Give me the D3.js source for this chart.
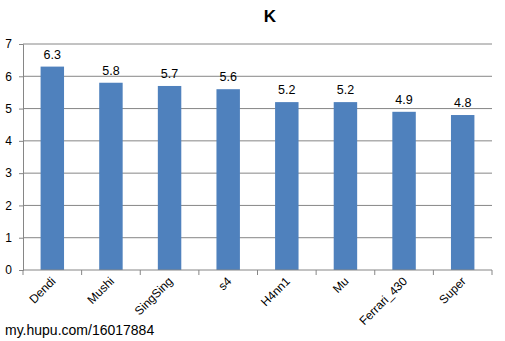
<!DOCTYPE html>
<html>
<head>
  <meta charset="utf-8">
  <title>K</title>
  <script src="https://d3js.org/d3.v7.min.js"></script>
  <style>
    body, html { margin: 0; padding: 0; background: #fff; }
    svg { display: block; }
    text { font-family: "Liberation Sans", "DejaVu Sans", sans-serif; fill: #000; }
  </style>
</head>
<body>
<svg width="505" height="341"></svg>
<script>
  // chart data
  const players = ["Dendi", "Mushi", "SingSing", "s4", "H4nn1", "Mu", "Ferrari_430", "Super"];
  const scores = [6.3, 5.8, 5.7, 5.6, 5.2, 5.2, 4.9, 4.8];
  const yTicks = [0, 1, 2, 3, 4, 5, 6, 7];

  const svg = d3.select("svg");
  const margin = { top: 44, right: 13, bottom: 71, left: 23 };
  const width = 505 - margin.left - margin.right;
  const height = 341 - margin.top - margin.bottom;

  const g = svg.append("g").attr("transform", `translate(${margin.left},${margin.top})`);

  const x = d3.scaleBand().domain(players).range([0, width]).paddingInner(0.6).paddingOuter(0.3);
  const y = d3.scaleLinear().domain([0, 7]).range([height, 0]);

  // gridlines
  g.selectAll(".grid")
    .data(yTicks.slice(1))
    .enter().append("line")
    .attr("x1", 0).attr("x2", width)
    .attr("y1", d => y(d)).attr("y2", d => y(d))
    .attr("stroke", "#868686").attr("stroke-width", 1);

  // y axis
  const yAxis = g.append("g")
    .call(d3.axisLeft(y).tickValues(yTicks).tickFormat(d3.format("d")).tickSize(4).tickPadding(7));
  yAxis.select(".domain").attr("stroke", "#868686");
  yAxis.selectAll(".tick line").attr("stroke", "#868686");
  yAxis.selectAll("text").attr("font-size", 12).attr("fill", "#000")
    .style("font-family", "'Liberation Sans', sans-serif");

  // bars
  g.selectAll(".bar")
    .data(players)
    .enter().append("rect")
    .attr("x", d => x(d))
    .attr("y", (d, i) => y(scores[i]))
    .attr("width", x.bandwidth())
    .attr("height", (d, i) => height - y(scores[i]))
    .attr("fill", "#4F81BD");

  // value labels
  g.selectAll(".val")
    .data(players)
    .enter().append("text")
    .attr("x", d => x(d) + x.bandwidth() / 2)
    .attr("y", (d, i) => y(scores[i]) - 8)
    .attr("text-anchor", "middle")
    .attr("font-size", 12.5)
    .text((d, i) => scores[i]);

  // x axis with boundary ticks
  const boundaries = d3.range(players.length + 1).map(i => i * width / players.length);
  g.append("line")
    .attr("x1", 0).attr("x2", width)
    .attr("y1", height).attr("y2", height)
    .attr("stroke", "#868686");
  g.selectAll(".xtick")
    .data(boundaries)
    .enter().append("line")
    .attr("x1", d => d).attr("x2", d => d)
    .attr("y1", height).attr("y2", height + 5)
    .attr("stroke", "#868686");

  g.selectAll(".xlabel")
    .data(players)
    .enter().append("text")
    .attr("transform", d => `translate(${x(d) + x.bandwidth() / 2 + 4},${height + 12}) rotate(-45)`)
    .attr("text-anchor", "end")
    .attr("font-size", 12)
    .text(d => d);

  // title
  svg.append("text")
    .attr("x", 270).attr("y", 22)
    .attr("text-anchor", "middle")
    .attr("font-size", 17)
    .attr("font-weight", "bold")
    .text("K");

  // watermark
  svg.append("text")
    .attr("x", 5).attr("y", 335)
    .attr("font-size", 14)
    .attr("fill", "#222")
    .text("my.hupu.com/16017884");
</script>
</body>
</html>
